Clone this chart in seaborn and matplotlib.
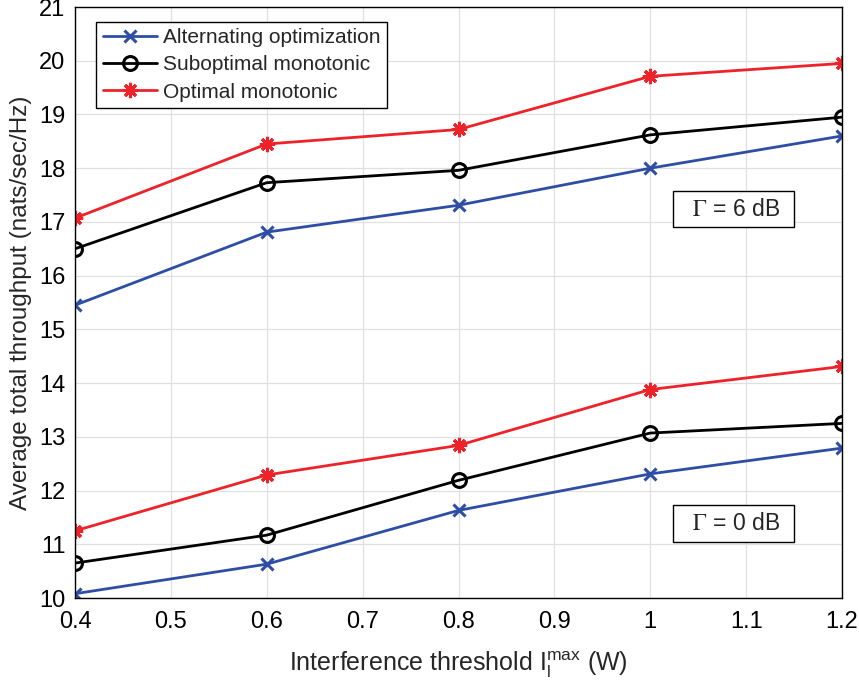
import matplotlib
matplotlib.use("Agg")
import matplotlib.pyplot as plt
import seaborn as sns
import pandas as pd

x = [0.4, 0.6, 0.8, 1.0, 1.2]
alt_6 = [15.45, 16.81, 17.31, 18.00, 18.60]
sub_6 = [16.50, 17.73, 17.96, 18.62, 18.95]
opt_6 = [17.07, 18.45, 18.72, 19.71, 19.95]
alt_0 = [10.08, 10.63, 11.63, 12.31, 12.79]
sub_0 = [10.65, 11.17, 12.19, 13.07, 13.25]
opt_0 = [11.25, 12.29, 12.84, 13.88, 14.31]
labels = ["Alternating optimization", "Suboptimal monotonic", "Optimal monotonic"]
xticks = [0.4, 0.5, 0.6, 0.7, 0.8, 0.9, 1.0, 1.1, 1.2]
xticklabels = ["0.4", "0.5", "0.6", "0.7", "0.8", "0.9", "1", "1.1", "1.2"]
yticks = list(range(10, 22))

sns.set_style("white")
plt.rcParams['font.family'] = ['Liberation Sans', 'DejaVu Sans']
plt.rcParams['mathtext.fontset'] = 'stix'

colors = ["#2E4EA6", "#000000", "#EE2229"]
markers = ["x", "o", (8, 2, 0)]
msizes = [9, 10, 11]

fig = plt.figure(figsize=(8.59, 6.89), dpi=100)
ax = fig.add_axes([75/859, 1-598/689, (842-75)/859, (598-7)/689])

series = [(alt_6, alt_0), (sub_6, sub_0), (opt_6, opt_0)]
for i, (s6, s0) in enumerate(series):
    for j, s in enumerate((s6, s0)):
        df = pd.DataFrame({"x": x, "y": s})
        sns.lineplot(data=df, x="x", y="y", ax=ax, color=colors[i], linewidth=2,
                     marker=markers[i], markersize=msizes[i],
                     markerfacecolor="none" if i == 1 else colors[i],
                     markeredgecolor=colors[i], markeredgewidth=2.2,
                     label=labels[i] if j == 0 else None, legend=False)

ax.set_xlim(0.4, 1.2)
ax.set_ylim(10, 21)
ax.set_xticks(xticks)
ax.set_xticklabels(xticklabels)
ax.set_yticks(yticks)
ax.grid(True, color="#E0E0E0", linewidth=0.9)
ax.set_axisbelow(True)
for sp in ax.spines.values():
    sp.set_visible(True)
    sp.set_color("black")
    sp.set_linewidth(1.0)
ax.tick_params(direction="in", length=5, labelsize=17, colors="black",
               top=False, right=False)
ax.tick_params(axis="x", pad=9)
ax.tick_params(axis="y", pad=7)
ax.set_xlabel(r"Interference threshold $\mathregular{I_l^{max}}$ (W)", fontsize=18, labelpad=12)
ax.set_ylabel("Average total throughput (nats/sec/Hz)", fontsize=17.5, labelpad=5)

handles, lbls = ax.get_legend_handles_labels()
leg = ax.legend(handles, lbls, loc="upper left", bbox_to_anchor=(0.028, 0.975),
                fontsize=15, frameon=True, fancybox=False, edgecolor="black",
                framealpha=1, borderpad=0.3, labelspacing=0.4, handlelength=2.6,
                handletextpad=0.3, borderaxespad=0.0)
leg.get_frame().set_linewidth(1.0)

box = dict(boxstyle="square,pad=0.3", facecolor="white", edgecolor="black", linewidth=1.0)
ax.text(1.087, 17.24, r"  $\Gamma$ = 6 dB  ", fontsize=16.5, ha="center", va="center", bbox=box)
ax.text(1.087, 11.39, r"  $\Gamma$ = 0 dB  ", fontsize=16.5, ha="center", va="center", bbox=box)

fig.savefig("out.png", dpi=100)
